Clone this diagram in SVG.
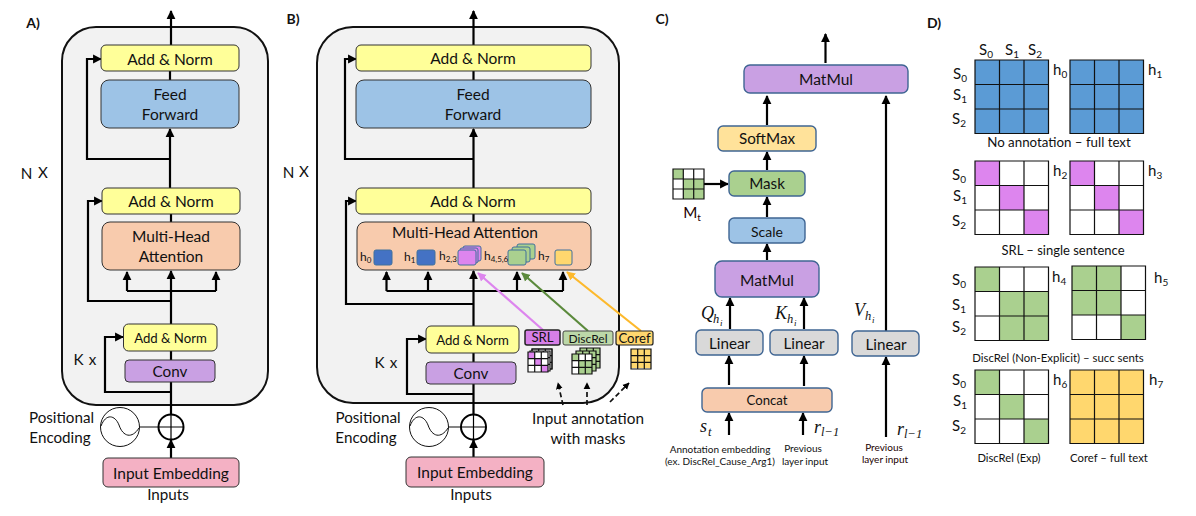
<svg xmlns="http://www.w3.org/2000/svg" xmlns:xlink="http://www.w3.org/1999/xlink" width="1196" height="516" viewBox="0 0 1196 516">
<style>
text{font-family:"Lato","Noto Sans",sans-serif;fill:#111;text-anchor:middle}
.t16{font-size:15.500px}.t15{font-size:15.200px}.t14{font-size:14px}.t13{font-size:13.200px}.t12{font-size:12px}.t10{font-size:10px}.b{font-weight:700;font-size:14px}
.m{font-family:"Liberation Serif",serif;font-style:italic;font-size:18px;text-anchor:start}
.ms{font-family:"Liberation Serif",serif;font-style:italic;font-size:12.500px;text-anchor:start}
.mi{font-family:"Liberation Serif",serif;font-style:italic;font-size:9px;text-anchor:start}
.s{font-size:15px;text-anchor:start}
.panel{fill:#f2f2f2;stroke:#111;stroke-width:2}
.box{stroke:#333;stroke-width:1}
.cb{stroke:#3f6593;stroke-width:1.400}
.y{fill:#ffff99}.bl{fill:#9dc3e6}.o{fill:#f8cbad}.p{fill:#c9a0e3}.r{fill:#f4b1c4}.g{fill:#d9d9d9}.gr{fill:#aad08f}.go{fill:#ffe29a}
.w{fill:none;stroke:#000;stroke-width:2.200}
.a{fill:none;stroke:#000;stroke-width:2.200;marker-end:url(#ah)}
.thin{fill:none;stroke:#111;stroke-width:1}
.cb2{fill:#5b9bd5}.cp{fill:#dd85ee}.cg{fill:#aad08f}.cy{fill:#ffd76e}
.gl{fill:none;stroke:#111;stroke-width:1.200}
.d{fill:none;stroke:#111;stroke-width:1.700;stroke-dasharray:5 3;marker-end:url(#ah)}
</style>
<defs>
<marker id="ah" viewBox="0 0 10 10" refX="9" refY="5" markerWidth="4" markerHeight="4.400" orient="auto"><path d="M0 0L10 5L0 10z" fill="#000"/></marker>
<marker id="ahp" viewBox="0 0 10 10" refX="9" refY="5" markerWidth="4" markerHeight="4.400" orient="auto"><path d="M0 0L10 5L0 10z" fill="#dd85ee"/></marker>
<marker id="ahg" viewBox="0 0 10 10" refX="9" refY="5" markerWidth="4" markerHeight="4.400" orient="auto"><path d="M0 0L10 5L0 10z" fill="#5b8a3c"/></marker>
<marker id="ahy" viewBox="0 0 10 10" refX="9" refY="5" markerWidth="4" markerHeight="4.400" orient="auto"><path d="M0 0L10 5L0 10z" fill="#fdb92c"/></marker>
<path id="grid" class="gl" d="M0 0H73.500V73.500H0ZM24.500 0V73.500M49 0V73.500M0 24.500H73.500M0 49H73.500"/>
<path id="mini" class="gl" d="M0 0H20V20H0ZM6.700 0V20M13.300 0V20M0 6.700H20M0 13.300H20"/>
<g id="sine"><circle r="19.500" fill="#fff" stroke="#111" stroke-width="1"/><path class="thin" d="M-19 -1C-14 -14 -5 -12 -1 -2C3 10 12 12 19 1"/></g>
<g id="plus"><circle r="12.500" fill="#fff" stroke="#000" stroke-width="2"/><path d="M-12 0H12M0 -12V12" stroke="#000" stroke-width="1.200"/></g>
</defs>
<rect width="1196" height="516" fill="#fff"/>

<text class="b" x="33" y="28">A)</text>
<text class="b" x="293" y="24">B)</text>
<text class="b" x="662" y="24">C)</text>
<text class="b" x="934" y="28">D)</text>

<g id="panelA"><rect class="panel" x="62" y="27" width="206" height="378" rx="34"/></g>
<g id="panelB"><rect class="panel" x="317" y="27" width="302" height="376" rx="36"/></g>

<g id="connectors">
<path class="a" d="M171 45V11"/><path class="w" d="M170 71V80"/><path class="a" d="M170 188V129"/>
<path class="a" d="M170 159H87V59H101"/><path class="w" d="M171 214V222"/>
<path class="a" d="M171 324V271"/><path class="a" d="M127 291V272"/><path class="a" d="M216 291V272"/><path class="w" d="M127 291H216"/>
<path class="a" d="M171 301H88V201H102"/><path class="w" d="M171 351V360M171 382V415"/>
<path class="a" d="M171 392H105V337H123"/><path class="a" d="M171 458V440"/>
<path d="M139.500 427H158.500" stroke="#333" stroke-width="1.200"/>

<path class="a" d="M473.500 45V11"/><path class="w" d="M473.500 71V80"/><path class="a" d="M473.500 188V129"/>
<path class="a" d="M473.500 159H345V59H356"/><path class="w" d="M473.500 214V222"/>
<path class="a" d="M473.500 326V271"/><path class="a" d="M386.500 291V272"/><path class="a" d="M428 291V272"/><path class="a" d="M517 291V272"/><path class="a" d="M563 291V272"/><path class="w" d="M386.500 291H563"/>
<path class="a" d="M473.500 304H346V201H356"/><path class="w" d="M473.500 353V362M473.500 384V415"/>
<path class="a" d="M473.500 394H407V339H426"/><path class="a" d="M473.500 457V440"/>
<path d="M448.500 427H461" stroke="#333" stroke-width="1.200"/>
<path d="M543 330L478 273" fill="none" stroke="#dd85ee" stroke-width="2.200" marker-end="url(#ahp)"/>
<path d="M588 331L522 273" fill="none" stroke="#5b8a3c" stroke-width="2.200" marker-end="url(#ahg)"/>
<path d="M641 331L567 272" fill="none" stroke="#fdb92c" stroke-width="2.200" marker-end="url(#ahy)"/>
<path class="d" d="M563 405L558 383"/><path class="d" d="M587 405L587 383"/><path class="d" d="M610 402L629 383"/>

<path class="a" d="M825.500 63V34"/><path class="a" d="M767 125V96"/><path class="a" d="M767 170V152"/><path class="a" d="M767 217V197"/><path class="a" d="M767 260V244"/>
<path class="a" d="M886 331V96"/><path class="a" d="M730 329V298"/><path class="a" d="M804 329V298"/>
<path class="a" d="M729 385V356"/><path class="a" d="M804 386V356"/><path class="a" d="M729 435V413"/><path class="a" d="M803 435V413"/><path class="a" d="M886 437V357"/>
<path class="a" d="M704 184H728"/>
</g>

<g id="a-addnorm-top"><rect class="box y" x="101" y="45" width="138" height="26" rx="5"/><text class="t16" x="170" y="65">Add &amp; Norm</text></g>
<g id="a-ff"><rect class="box bl" x="101" y="80" width="138" height="48" rx="8"/><text class="t16" x="170" y="100">Feed</text><text class="t16" x="170" y="120">Forward</text></g>
<g id="a-addnorm-mid"><rect class="box y" x="102" y="188" width="138" height="26" rx="5"/><text class="t16" x="171" y="207">Add &amp; Norm</text></g>
<g id="a-mha"><rect class="box o" x="102" y="222" width="138" height="48" rx="8"/><text class="t16" x="171" y="242">Multi-Head</text><text class="t16" x="171" y="262">Attention</text></g>
<g id="a-addnorm-k"><rect class="box y" x="123.500" y="324" width="93.500" height="27" rx="5"/><text class="t13" x="170.500" y="343">Add &amp; Norm</text></g>
<g id="a-conv"><rect class="box p" x="125" y="360" width="90" height="22" rx="4"/><text class="t15" x="170" y="377">Conv</text></g>
<g id="a-embed"><rect class="box r" x="103" y="458" width="136" height="29" rx="5"/><text class="t16" x="171" y="479">Input Embedding</text></g>
<g id="a-inputs"><text class="t15" x="168" y="500">Inputs</text></g>
<g id="a-pos"><use xlink:href="#sine" href="#sine" x="120" y="427"/><use xlink:href="#plus" href="#plus" x="171" y="427"/><text class="t15" x="61.500" y="423">Positional</text><text class="t15" x="60" y="443">Encoding</text></g>
<text class="t15" x="26.500" y="179">N</text><text class="t15" x="43" y="178">X</text>
<text class="t15" x="78.500" y="365">K</text><text class="t15" x="92.500" y="365">x</text>

<g id="b-addnorm-top"><rect class="box y" x="356" y="45" width="235" height="26" rx="5"/><text class="t16" x="473" y="64">Add &amp; Norm</text></g>
<g id="b-ff"><rect class="box bl" x="356" y="80" width="235" height="48" rx="8"/><text class="t16" x="473" y="100">Feed</text><text class="t16" x="473" y="120">Forward</text></g>
<g id="b-addnorm-mid"><rect class="box y" x="356" y="188" width="235" height="26" rx="5"/><text class="t16" x="473" y="207">Add &amp; Norm</text></g>
<g id="b-mha"><rect class="box o" x="357" y="222" width="234" height="48" rx="8"/><text class="t16" x="465" y="238">Multi-Head Attention</text>
<rect x="374" y="250" width="18" height="15" rx="2" fill="#4472c4" stroke="#41719c"/>
<rect x="417" y="250" width="18" height="15" rx="2" fill="#4472c4" stroke="#41719c"/>
<rect x="463" y="246" width="18" height="15" rx="2" fill="#dd85ee" stroke="#41719c"/><rect x="460" y="248" width="18" height="15" rx="2" fill="#dd85ee" stroke="#41719c"/><rect x="458" y="250" width="18" height="15" rx="2" fill="#dd85ee" stroke="#41719c"/>
<rect x="517" y="244" width="18" height="15" rx="2" fill="#aad08f" stroke="#41719c"/><rect x="512" y="247" width="18" height="15" rx="2" fill="#aad08f" stroke="#41719c"/><rect x="508" y="250" width="18" height="15" rx="2" fill="#aad08f" stroke="#41719c"/>
<rect x="555" y="250" width="17" height="15" rx="2" fill="#ffd76e" stroke="#41719c"/>
<text class="t12" x="360" y="261" style="text-anchor:start">h<tspan font-size="8" dy="2">0</tspan></text>
<text class="t12" x="404" y="261" style="text-anchor:start">h<tspan font-size="8" dy="2">1</tspan></text>
<text class="t12" x="439" y="260" style="text-anchor:start">h<tspan font-size="8" dy="2">2,3</tspan></text>
<text class="t12" x="484" y="260" style="text-anchor:start">h<tspan font-size="8" dy="2">4,5,6</tspan></text>
<text class="t12" x="538" y="260" style="text-anchor:start">h<tspan font-size="8" dy="2">7</tspan></text>
</g>
<g id="b-addnorm-k"><rect class="box y" x="426" y="326" width="93" height="27" rx="5"/><text class="t13" x="472.500" y="345">Add &amp; Norm</text></g>
<g id="b-conv"><rect class="box p" x="426" y="362" width="90" height="22" rx="4"/><text class="t15" x="471" y="379">Conv</text></g>
<g id="b-embed"><rect class="box r" x="406" y="457" width="138" height="30" rx="5"/><text class="t16" x="475" y="478">Input Embedding</text></g>
<g id="b-inputs"><text class="t15" x="471" y="500">Inputs</text></g>
<g id="b-pos"><use xlink:href="#sine" href="#sine" x="429" y="427"/><use xlink:href="#plus" href="#plus" x="473.500" y="427"/><text class="t15" x="368" y="423">Positional</text><text class="t15" x="366" y="443">Encoding</text></g>
<text class="t15" x="288.500" y="178">N</text><text class="t15" x="304" y="177">X</text>
<text class="t15" x="379.500" y="368">K</text><text class="t15" x="393.500" y="368">x</text>

<g id="srl"><rect x="525" y="330" width="35" height="15" rx="2" fill="#d77fe8" stroke="#222" stroke-width="1.500"/><text class="t13" x="542.500" y="342">SRL</text>
<rect x="532" y="349" width="20" height="20" fill="#fff" stroke="#111"/><use xlink:href="#mini" href="#mini" x="532" y="349"/><rect x="530" y="351" width="20" height="20" fill="#fff"/><use xlink:href="#mini" href="#mini" x="530" y="351"/><rect x="528" y="352" width="20" height="20" fill="#fff"/>
<rect x="528" y="352" width="6.700" height="6.700" fill="#dd85ee"/><rect x="534.700" y="358.700" width="6.700" height="6.700" fill="#dd85ee"/><rect x="541.400" y="365.400" width="6.600" height="6.600" fill="#dd85ee"/><use xlink:href="#mini" href="#mini" x="528" y="352"/></g>
<g id="discrel"><rect x="563" y="331" width="50" height="14" rx="2" fill="#bcd8a8" stroke="#444" stroke-width="1"/><text class="t12" x="588" y="342.500">DiscRel</text>
<rect x="580" y="348" width="20" height="20" fill="#aad08f"/><use xlink:href="#mini" href="#mini" x="580" y="348"/><rect x="576" y="351" width="20" height="20" fill="#aad08f"/><use xlink:href="#mini" href="#mini" x="576" y="351"/><rect x="572" y="354" width="20" height="20" fill="#fff"/><rect x="572" y="354" width="6.700" height="6.700" fill="#aad08f"/><rect x="578.700" y="360.700" width="13.300" height="13.300" fill="#aad08f"/><use xlink:href="#mini" href="#mini" x="572" y="354"/></g>
<g id="coref"><rect x="616" y="331" width="37" height="14" rx="2" fill="#ffd76e" stroke="#222" stroke-width="1.200"/><text class="t13" x="634.500" y="343">Coref</text>
<rect x="631" y="349" width="20" height="19" fill="#ffd76e"/><use xlink:href="#mini" href="#mini" x="631" y="349"/></g>
<text class="t15" x="588" y="424" style="font-size:15.300px">Input annotation</text><text class="t15" x="588" y="444" style="font-size:15.300px">with masks</text>

<g id="c-matmul-top"><rect class="cb p" x="744" y="65" width="164" height="28" rx="6"/><text class="t16" x="826" y="85">MatMul</text></g>
<g id="c-softmax"><rect class="cb go" x="718" y="126" width="98" height="25" rx="5"/><text class="t15" x="767" y="144">SoftMax</text></g>
<g id="c-mask"><rect class="cb gr" x="729" y="171" width="76" height="25" rx="5"/><text class="t15" x="767" y="189">Mask</text></g>
<g id="c-scale"><rect class="cb bl" x="729" y="218" width="76" height="25" rx="5"/><text class="t14" x="767" y="237">Scale</text></g>
<g id="c-matmul"><rect class="cb p" x="715" y="261" width="104" height="36" rx="7"/><text class="t16" x="767" y="286">MatMul</text></g>
<g id="c-linq"><rect class="cb g" x="696" y="330" width="67" height="25" rx="5"/><text class="t15" x="729.500" y="349">Linear</text></g>
<g id="c-link"><rect class="cb g" x="770" y="330" width="68" height="25" rx="5"/><text class="t15" x="804" y="349">Linear</text></g>
<g id="c-linv"><rect class="cb g" x="852" y="331" width="67" height="25" rx="5"/><text class="t15" x="886" y="350">Linear</text></g>
<g id="c-concat"><rect class="cb o" x="702" y="388" width="130" height="24" rx="5"/><text class="t13" x="767" y="405">Concat</text></g>
<g id="c-mt">
<rect x="673" y="169" width="31" height="30" fill="#fff"/>
<rect x="673" y="169" width="10.300" height="10" fill="#aad08f"/><rect x="683.300" y="179" width="20.700" height="20" fill="#aad08f"/>
<path class="gl" d="M673 169H704V199H673ZM683.300 169V199M693.700 169V199M673 179H704M673 189H704"/>
<text class="t15" x="692" y="218" style="fill:#200">M<tspan font-size="10" dy="3">t</tspan></text></g>
<text class="m" x="701" y="319">Q</text><text class="ms" x="713" y="323">h</text><text class="mi" x="720" y="326">i</text>
<text class="m" x="775" y="319">K</text><text class="ms" x="787" y="323">h</text><text class="mi" x="794" y="326">i</text>
<text class="m" x="854" y="316">V</text><text class="ms" x="865" y="320">h</text><text class="mi" x="872" y="323">i</text>
<text class="m" x="700" y="432">s</text><text class="ms" x="708" y="436">t</text>
<text class="m" x="814" y="433">r</text><text class="ms" x="821" y="436">l−1</text>
<text class="m" x="897" y="435">r</text><text class="ms" x="904" y="438">l−1</text>
<text class="t10" x="720" y="453">Annotation embedding</text><text class="t10" x="720" y="465">(ex. DiscRel_Cause_Arg1)</text>
<text class="t10" x="803" y="452">Previous</text><text class="t10" x="805" y="465">layer input</text>
<text class="t10" x="884" y="451" style="fill:#200">Previous</text><text class="t10" x="885" y="463" style="fill:#200">layer input</text>

<g id="d-h0"><rect class="cb2" x="975" y="60" width="73.500" height="73.500"/><use xlink:href="#grid" href="#grid" x="975" y="60"/><text class="s" x="1053" y="75">h<tspan font-size="10" dy="3">0</tspan></text></g>
<g id="d-h1"><rect class="cb2" x="1070" y="60" width="73.500" height="73.500"/><use xlink:href="#grid" href="#grid" x="1070" y="60"/><text class="s" x="1148" y="75">h<tspan font-size="10" dy="3">1</tspan></text></g>
<g id="d-h2"><rect class="cp" x="975" y="161" width="24.500" height="24.500"/><rect class="cp" x="999.500" y="185.500" width="24.500" height="24.500"/><rect class="cp" x="1024" y="210" width="24.500" height="24.500"/><use xlink:href="#grid" href="#grid" x="975" y="161"/><text class="s" x="1053" y="176">h<tspan font-size="10" dy="3">2</tspan></text></g>
<g id="d-h3"><rect class="cp" x="1070" y="161" width="24.500" height="24.500"/><rect class="cp" x="1094.500" y="185.500" width="24.500" height="24.500"/><rect class="cp" x="1119" y="210" width="24.500" height="24.500"/><use xlink:href="#grid" href="#grid" x="1070" y="161"/><text class="s" x="1148" y="176">h<tspan font-size="10" dy="3">3</tspan></text></g>
<g id="d-h4"><rect class="cg" x="975" y="267" width="24.500" height="24.500"/><rect class="cg" x="999.500" y="291.500" width="49" height="49"/><use xlink:href="#grid" href="#grid" x="975" y="267"/><text class="s" x="1052" y="282">h<tspan font-size="10" dy="3">4</tspan></text></g>
<g id="d-h5"><rect class="cg" x="1072" y="266" width="49" height="49"/><rect class="cg" x="1121" y="315" width="24.500" height="24.500"/><use xlink:href="#grid" href="#grid" x="1072" y="266"/><text class="s" x="1154" y="283">h<tspan font-size="10" dy="3">5</tspan></text></g>
<g id="d-h6"><rect class="cg" x="975" y="370" width="24.500" height="24.500"/><rect class="cg" x="999.500" y="394.500" width="24.500" height="24.500"/><rect class="cg" x="1024" y="419" width="24.500" height="24.500"/><use xlink:href="#grid" href="#grid" x="975" y="370"/><text class="s" x="1053" y="385">h<tspan font-size="10" dy="3">6</tspan></text></g>
<g id="d-h7"><rect class="cy" x="1070" y="370" width="73.500" height="73.500"/><use xlink:href="#grid" href="#grid" x="1070" y="370"/><text class="s" x="1149" y="385">h<tspan font-size="10" dy="3">7</tspan></text></g>

<g id="d-axis">
<text class="s" x="979" y="55">S<tspan font-size="10" dy="3">0</tspan></text><text class="s" x="1005" y="55">S<tspan font-size="10" dy="3">1</tspan></text><text class="s" x="1028" y="55">S<tspan font-size="10" dy="3">2</tspan></text>
<text class="s" x="953" y="79">S<tspan font-size="10" dy="3">0</tspan></text><text class="s" x="953" y="100">S<tspan font-size="10" dy="3">1</tspan></text><text class="s" x="952" y="124">S<tspan font-size="10" dy="3">2</tspan></text>
<text class="s" x="952" y="180">S<tspan font-size="10" dy="3">0</tspan></text><text class="s" x="953" y="201">S<tspan font-size="10" dy="3">1</tspan></text><text class="s" x="952" y="226">S<tspan font-size="10" dy="3">2</tspan></text>
<text class="s" x="952" y="285">S<tspan font-size="10" dy="3">0</tspan></text><text class="s" x="952" y="310">S<tspan font-size="10" dy="3">1</tspan></text><text class="s" x="952" y="332">S<tspan font-size="10" dy="3">2</tspan></text>
<text class="s" x="952" y="385">S<tspan font-size="10" dy="3">0</tspan></text><text class="s" x="953" y="406">S<tspan font-size="10" dy="3">1</tspan></text><text class="s" x="952" y="431">S<tspan font-size="10" dy="3">2</tspan></text>
</g>
<text x="1059" y="147" style="font-size:13.300px">No annotation – full text</text>
<text x="1063" y="255" style="font-size:13px">SRL – single sentence</text>
<text x="1058" y="362" style="font-size:11.400px">DiscRel (Non-Explicit) – succ sents</text>
<text x="1009" y="462" style="font-size:11.200px">DiscRel (Exp)</text>
<text x="1109" y="462" style="font-size:11.300px">Coref – full text</text>
</svg>
